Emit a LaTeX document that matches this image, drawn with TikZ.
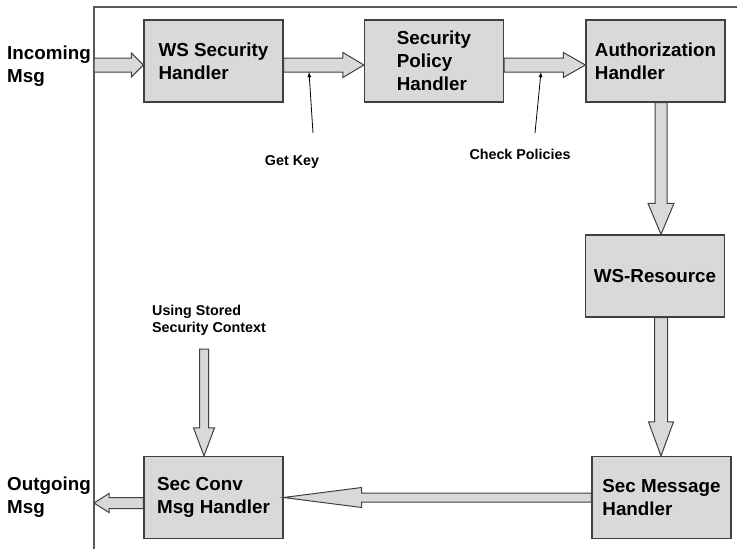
\documentclass[tikz,border=0pt]{standalone}
\usepackage{fontspec}
\setmainfont{Liberation Sans}
\usetikzlibrary{arrows,calc}
\tikzstyle{box}=[draw=black!75,fill=black!15,line width=1.2pt,minimum width=139pt,minimum height=82pt,inner sep=0pt,align=left,font=\fontsize{18.8}{23}\selectfont\bfseries]
\tikzstyle{fat}=[draw=black!75,fill=black!15,line width=1pt,line join=miter]
\tikzstyle{side}=[inner sep=0pt,align=left,font=\fontsize{18.8}{23}\selectfont\bfseries]
\tikzstyle{note}=[inner sep=0pt,align=left,font=\fontsize{14.3}{17}\selectfont\bfseries]
\tikzstyle{pointer}=[draw,line width=0.8pt,-latex]

\begin{document}
\begin{tikzpicture}[x=1pt,y=-1pt]
\useasboundingbox (0,0) rectangle (737,549);

% frame
\draw[black!65,line width=1.2pt] (94,549) -- (94,7) -- (737,7);

% First the handler boxes
\foreach \pos/\name/\txt in {{(213.5,61)/ws/{WS Security\\Handler}},
                             {(434,61)/pol/{Security\\Policy\\Handler}},
                             {(655.5,61)/auth/{Authorization\\Handler}},
                             {(655,276)/res/{WS-Resource}},
                             {(661.5,497.5)/msg/{Sec Message\\Handler}},
                             {(213.5,497.5)/conv/{Sec Conv\\Msg Handler}}}
  \node[box] (\name) at \pos {\txt};

% free ends of the flow
\coordinate (in) at (94,65);
\coordinate (out) at (94,503);
\coordinate (down) at (661,0);
\coordinate (ctxtop) at (204,349);

% Then the fat flow arrows: from/to/half shaft/half head/head length
\foreach \src/\dst/\sh/\hh/\hl in {in/{ws.west |- in}/7/12/12,
                                   {ws.east |- in}/{pol.west |- in}/7/12.5/21,
                                   {pol.east |- in}/{auth.west |- in}/7/12.5/22,
                                   {auth.south -| down}/{res.north -| down}/6/13/31,
                                   {res.south -| down}/{msg.north -| down}/6.5/12.5/34,
                                   msg.west/conv.east/4.5/10/78,
                                   {conv.west |- out}/out/5.5/9.5/15,
                                   ctxtop/{conv.north -| ctxtop}/4.5/10.5/28}
{
  \coordinate (hb) at ($(\dst)!\hl pt!(\src)$);
  \path[fat] ($(\src)!\sh pt!90:(\dst)$) -- ($(hb)!\sh pt!90:(\dst)$) -- ($(hb)!\hh pt!90:(\dst)$)
    -- (\dst) -- ($(hb)!\hh pt!-90:(\dst)$) -- ($(hb)!\sh pt!-90:(\dst)$) -- ($(\src)!\sh pt!-90:(\dst)$) -- cycle;
}

% side labels
\node[side,anchor=west] (incoming) at (7,66.5) {Incoming\\Msg};
\node[side,anchor=west] (outgoing) at (7,497) {Outgoing\\Msg};

% notes and their pointers
\node[note] (getkey) at (292,162) {Get Key};
\node[note] (checkpol) at (520,154) {Check Policies};
\node[note,anchor=west] (context) at (152,320.5) {Using Stored\\Security Context};

\coordinate (keytail) at (313,133);
\coordinate (keytip) at (309,72);
\coordinate (poltail) at (535,133);
\coordinate (poltip) at (541,72);
\foreach \tail/\tip in {keytail/keytip, poltail/poltip}
  \path[pointer] (\tail) -- (\tip);

\end{tikzpicture}
\end{document}
